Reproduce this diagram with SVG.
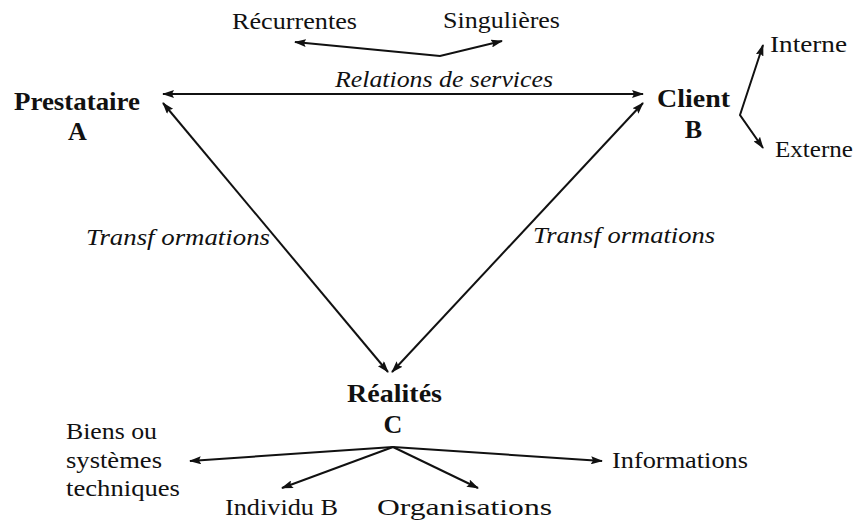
<svg xmlns="http://www.w3.org/2000/svg" width="856" height="524" viewBox="0 0 856 524">
<style>
text{font-family:"Liberation Serif","Times New Roman",serif;fill:#111;font-size:24px}
.b{font-weight:bold;font-size:26px}
.i{font-style:italic}
.c{fill:none;stroke:#111;stroke-width:2}
</style>
<defs>
<marker id="ah" viewBox="0 0 12 8" markerWidth="12" markerHeight="8" refX="11" refY="4" orient="auto-start-reverse" markerUnits="userSpaceOnUse">
<path d="M0,0 L12,4 L0,8 L2,4 z" fill="#111"/>
</marker>
</defs>
<rect width="856" height="524" fill="#fff"/>
<g id="connectors">
<line class="c" x1="163" y1="94" x2="643" y2="94" marker-start="url(#ah)" marker-end="url(#ah)"/>
<line class="c" x1="163" y1="103" x2="388" y2="372" marker-start="url(#ah)" marker-end="url(#ah)"/>
<line class="c" x1="643" y1="103" x2="392" y2="372" marker-start="url(#ah)" marker-end="url(#ah)"/>
<polyline class="c" points="295,42 440,56 502,41" marker-start="url(#ah)" marker-end="url(#ah)"/>
<polyline class="c" points="763,45 740,115 763,148" marker-start="url(#ah)" marker-end="url(#ah)"/>
<line class="c" x1="393" y1="447" x2="190" y2="461" marker-end="url(#ah)"/>
<line class="c" x1="393" y1="447" x2="282" y2="488" marker-end="url(#ah)"/>
<line class="c" x1="393" y1="447" x2="478" y2="488" marker-end="url(#ah)"/>
<line class="c" x1="393" y1="447" x2="602" y2="461" marker-end="url(#ah)"/>
</g>
<g id="prestataire">
<text class="b" x="14" y="110" textLength="126" lengthAdjust="spacingAndGlyphs">Prestataire</text>
<text class="b" x="77.5" y="140" text-anchor="middle">A</text>
</g>
<g id="client">
<text class="b" x="657" y="107" textLength="73" lengthAdjust="spacingAndGlyphs">Client</text>
<text class="b" x="693.5" y="138" text-anchor="middle">B</text>
</g>
<g id="realites">
<text class="b" x="347" y="402" textLength="95" lengthAdjust="spacingAndGlyphs">Réalités</text>
<text class="b" x="393" y="433" text-anchor="middle">C</text>
</g>
<g id="recurrentes"><text x="232" y="29" textLength="125" lengthAdjust="spacingAndGlyphs">Récurrentes</text></g>
<g id="singulieres"><text x="443" y="28" textLength="117" lengthAdjust="spacingAndGlyphs">Singulières</text></g>
<g id="relations"><text class="i" x="335" y="87" textLength="218" lengthAdjust="spacingAndGlyphs">Relations de services</text></g>
<g id="transf-left"><text class="i" x="86" y="245" textLength="184" lengthAdjust="spacingAndGlyphs">Transf ormations</text></g>
<g id="transf-right"><text class="i" x="533" y="243" textLength="182" lengthAdjust="spacingAndGlyphs">Transf ormations</text></g>
<g id="interne"><text x="770" y="52" textLength="77" lengthAdjust="spacingAndGlyphs">Interne</text></g>
<g id="externe"><text x="775" y="157" textLength="78" lengthAdjust="spacingAndGlyphs">Externe</text></g>
<g id="biens">
<text x="66" y="439" textLength="91" lengthAdjust="spacingAndGlyphs">Biens ou</text>
<text x="66" y="468" textLength="96" lengthAdjust="spacingAndGlyphs">systèmes</text>
<text x="66" y="496" textLength="114" lengthAdjust="spacingAndGlyphs">techniques</text>
</g>
<g id="individu"><text x="225" y="515" textLength="113" lengthAdjust="spacingAndGlyphs">Individu B</text></g>
<g id="organisations"><text x="377" y="515" textLength="175" lengthAdjust="spacingAndGlyphs">Organisations</text></g>
<g id="informations"><text x="612" y="468" textLength="136" lengthAdjust="spacingAndGlyphs">Informations</text></g>
</svg>
